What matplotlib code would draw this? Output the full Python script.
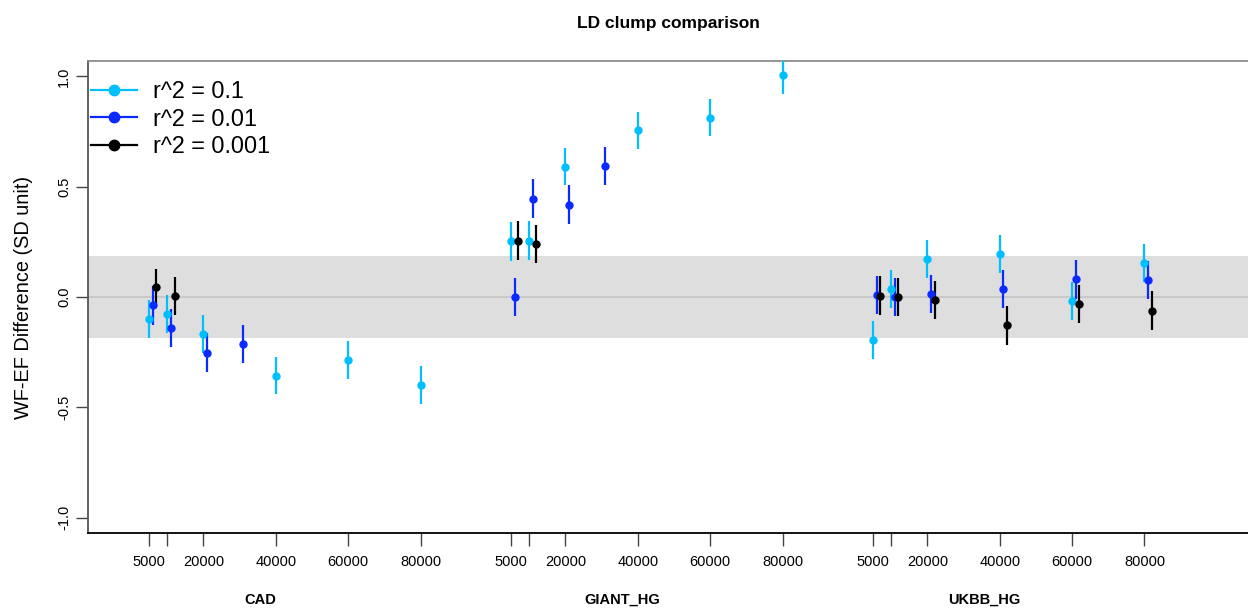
import numpy as np
import matplotlib
matplotlib.use("Agg")
import matplotlib.pyplot as plt
from matplotlib.lines import Line2D

plt.rcParams['font.family'] = ['Liberation Sans', 'DejaVu Sans']

# groups and sample-size ticks
groups = ["CAD", "GIANT_HG", "UKBB_HG"]
tick_n = [5000, 10000, 20000, 40000, 60000, 80000]
group_width = 100000

# r^2 = 0.1
lb_group = [0, 0, 0, 0, 0, 0, 1, 1, 1, 1, 1, 1, 2, 2, 2, 2, 2, 2]
lb_n = [5000, 10000, 20000, 40000, 60000, 80000] * 3
lb_y = [-0.10, -0.078, -0.166, -0.356, -0.284, -0.397,
        0.253, 0.255, 0.591, 0.756, 0.813, 1.008,
        -0.195, 0.035, 0.173, 0.195, -0.018, 0.154]
lb_se = [0.086, 0.087, 0.086, 0.085, 0.086, 0.086,
         0.088, 0.088, 0.083, 0.083, 0.084, 0.086,
         0.085, 0.087, 0.086, 0.087, 0.088, 0.085]

# r^2 = 0.01
bl_group = [0, 0, 0, 0, 1, 1, 1, 1, 2, 2, 2, 2, 2, 2]
bl_n = [5000, 10000, 20000, 30000, 5000, 10000, 20000, 30000,
        5000, 10000, 20000, 40000, 60000, 80000]
bl_y = [-0.038, -0.139, -0.252, -0.214, 0.0, 0.445, 0.418, 0.594,
        0.009, 0.0, 0.014, 0.036, 0.080, 0.077]
bl_se = [0.088, 0.086, 0.088, 0.087, 0.088, 0.088, 0.088, 0.087,
         0.088, 0.088, 0.088, 0.088, 0.088, 0.088]

# r^2 = 0.001
bk_group = [0, 0, 1, 1, 2, 2, 2, 2, 2, 2]
bk_n = [5000, 10000, 5000, 10000, 5000, 10000, 20000, 40000, 60000, 80000]
bk_y = [0.044, 0.005, 0.256, 0.240, 0.006, 0.0, -0.015, -0.128, -0.033, -0.062]
bk_se = [0.085, 0.087, 0.087, 0.087, 0.087, 0.087, 0.086, 0.089, 0.087, 0.087]

series = [
    ("r^2 = 0.1", "#00bfff", 0, lb_group, lb_n, lb_y, lb_se),
    ("r^2 = 0.01", "#0a2aff", 1000, bl_group, bl_n, bl_y, bl_se),
    ("r^2 = 0.001", "black", 2000, bk_group, bk_n, bk_y, bk_se),
]

band = 0.185

fig = plt.figure(figsize=(12.48, 6.08), dpi=100)
ax = fig.add_axes([88 / 1248, 1 - 533 / 608, 1160 / 1248, 472 / 608])

ax.axhspan(-band, band, color="#dedede", lw=0, zorder=0)
ax.axhline(0, color="#c6c6c6", lw=1.3, zorder=1)

for label, col, shift, g, n, y, se in series:
    x = np.array(g) * group_width + np.array(n) + shift
    ax.errorbar(x, y, yerr=se, fmt="o", color=col, ecolor=col, elinewidth=1.6,
                capsize=0, ms=5, zorder=3)

ax.set_xlim(-11900, 308600)
ax.set_ylim(-1.07, 1.07)

xt, xl = [], []
for i in range(len(groups)):
    for n in tick_n:
        xt.append(i * group_width + n)
        xl.append("" if n == 10000 else str(n))
ax.set_xticks(xt)
ax.set_xticklabels(xl)
ax.set_yticks([-1.0, -0.5, 0.0, 0.5, 1.0])
ax.set_yticklabels(["-1.0", "-0.5", "0.0", "0.5", "1.0"], rotation=90, va="center")

ax.tick_params(axis="x", length=9, width=1, pad=7, labelsize=10.5, color="#444444")
ax.tick_params(axis="y", length=9, width=1, pad=3, labelsize=10.5, color="#444444")

for i, name in enumerate(groups):
    ax.text(i * group_width + np.mean(tick_n), -0.142, name, transform=ax.get_xaxis_transform(),
            ha="center", va="center", fontsize=10.5, fontweight="bold")

ax.spines["right"].set_visible(False)
ax.spines["top"].set_color("#8c8c8c")
ax.spines["left"].set_color("#555555")
ax.spines["bottom"].set_color("black")
for s in ax.spines.values():
    s.set_linewidth(1.3)

ax.set_ylabel("WF-EF Difference (SD unit)", fontsize=14.3)
ax.yaxis.set_label_coords(-0.047, 0.5)
ax.set_title("LD clump comparison", fontsize=12.5, fontweight="bold", pad=24)

handles = [Line2D([0], [0], color=col, lw=1.6, marker="o", ms=7.5)
           for label, col, *_ in series]
ax.legend(handles, [s[0] for s in series], loc="upper left", frameon=False,
          fontsize=16.8, handlelength=1.95, handletextpad=0.7, labelspacing=0.2,
          borderpad=0.0, borderaxespad=0.0, bbox_to_anchor=(0.003, 0.96))

fig.savefig("out.png", dpi=100)
